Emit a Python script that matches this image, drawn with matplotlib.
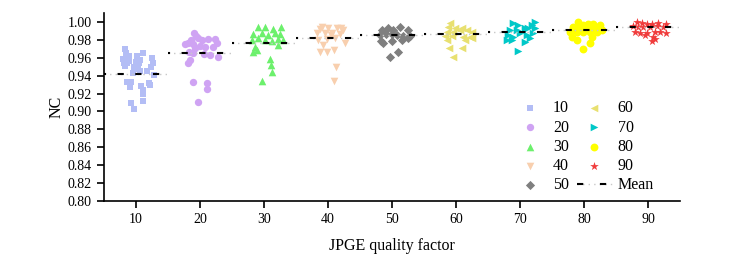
import matplotlib
matplotlib.use("Agg")
import matplotlib.pyplot as plt
from matplotlib.lines import Line2D

plt.rcParams['font.family'] = ['Liberation Serif', 'DejaVu Serif']

quality = [10, 20, 30, 40, 50, 60, 70, 80, 90]
means = [0.942, 0.965, 0.977, 0.982, 0.985, 0.987, 0.989, 0.991, 0.994]

x10 = [8.3, 8.4, 8.0, 8.1, 8.6, 8.3, 10.2, 10.0, 10.5, 11.1, 12.5, 12.7, 9.5, 10.6, 11.7, 12.8,
       8.6, 9.2, 9.1, 10.8, 11.1, 11.1, 12.0, 12.2, 11.1, 9.2, 9.7, 9.0, 9.8, 10.6, 8.9, 12.3, 10.3]
y10 = [0.970, 0.965, 0.959, 0.954, 0.954, 0.951, 0.962, 0.955, 0.954, 0.965, 0.960, 0.954, 0.943, 0.945, 0.945, 0.941,
       0.933, 0.933, 0.927, 0.928, 0.924, 0.920, 0.932, 0.930, 0.912, 0.909, 0.903, 0.957, 0.950, 0.958, 0.962, 0.950, 0.947]
x20 = [19.1, 19.4, 18.1, 18.9, 19.7, 20.3, 21.3, 22.3, 22.7, 22.0, 20.8, 20.0, 19.2, 18.3, 18.9, 20.6, 21.6, 22.8,
       18.1, 18.4, 18.9, 21.1, 21.1, 19.7, 17.7, 18.6]
y20 = [0.988, 0.984, 0.977, 0.975, 0.982, 0.980, 0.981, 0.981, 0.977, 0.972, 0.972, 0.973, 0.971, 0.966, 0.965, 0.964,
       0.963, 0.961, 0.954, 0.958, 0.933, 0.932, 0.925, 0.911, 0.975, 0.980]
x30 = [29.1, 30.2, 31.4, 32.7, 28.3, 29.7, 30.6, 31.7, 32.5, 28.1, 29.1, 30.2, 31.3, 32.2, 33.0, 28.6, 28.3, 28.9,
       32.2, 30.9, 31.1, 31.3, 29.7]
y30 = [0.994, 0.994, 0.992, 0.994, 0.987, 0.988, 0.985, 0.988, 0.987, 0.980, 0.982, 0.980, 0.979, 0.981, 0.980,
       0.972, 0.966, 0.969, 0.974, 0.959, 0.952, 0.944, 0.934]
x40 = [39.1, 40.0, 41.4, 42.3, 38.3, 39.5, 40.6, 41.9, 38.4, 39.8, 41.1, 42.7, 38.75, 39.8, 40.9, 41.25, 40.9, 39.2,
       40.5, 42.0, 38.8]
y40 = [0.994, 0.993, 0.993, 0.991, 0.988, 0.988, 0.988, 0.987, 0.980, 0.981, 0.982, 0.977, 0.966, 0.966, 0.969,
       0.950, 0.934, 0.974, 0.985, 0.993, 0.992]
x50 = [48.4, 49.4, 50.2, 51.25, 52.5, 48.1, 49.1, 50.0, 50.8, 51.7, 52.8, 48.3, 48.6, 50.0, 51.6, 52.5, 50.9, 49.7]
y50 = [0.991, 0.993, 0.991, 0.994, 0.991, 0.985, 0.987, 0.987, 0.985, 0.984, 0.984, 0.979, 0.977, 0.979, 0.980,
       0.982, 0.966, 0.961]
x60 = [59.1, 58.75, 59.8, 60.9, 58.6, 59.5, 60.6, 61.7, 62.5, 58.3, 59.4, 61.1, 62.2, 62.5, 61.4, 58.6, 58.9, 60.9, 59.5]
y60 = [0.999, 0.994, 0.993, 0.993, 0.989, 0.989, 0.991, 0.991, 0.989, 0.984, 0.984, 0.983, 0.983, 0.982, 0.980,
       0.980, 0.971, 0.971, 0.961]
x70 = [68.9, 69.7, 70.8, 72.3, 71.9, 68.4, 69.5, 71.25, 72.3, 68.1, 68.9, 70.0, 71.1, 72.0, 68.0, 68.75, 70.8, 71.6, 69.7]
y70 = [0.999, 0.997, 0.993, 1.000, 0.997, 0.991, 0.991, 0.993, 0.993, 0.985, 0.983, 0.988, 0.985, 0.988, 0.980,
       0.980, 0.978, 0.982, 0.968]
x80 = [79.1, 79.8, 80.6, 81.4, 82.5, 78.3, 79.1, 80.2, 81.25, 82.2, 77.8, 78.9, 79.8, 80.9, 82.0, 82.8, 78.1, 78.9,
       81.25, 80.9, 79.8]
y80 = [1.000, 0.997, 0.998, 0.998, 0.997, 0.994, 0.993, 0.993, 0.993, 0.993, 0.989, 0.989, 0.989, 0.989, 0.989,
       0.991, 0.983, 0.980, 0.983, 0.977, 0.970]
x90 = [88.3, 89.1, 89.8, 90.6, 91.6, 92.7, 87.7, 88.4, 89.2, 90.3, 91.4, 92.3, 88.0, 88.75, 89.8, 91.1, 91.9, 92.7,
       89.5, 90.8, 90.6, 91.1]
y90 = [1.000, 0.999, 0.998, 0.998, 0.999, 0.998, 0.996, 0.994, 0.994, 0.994, 0.996, 0.994, 0.989, 0.988, 0.988,
       0.989, 0.989, 0.988, 0.985, 0.983, 0.979, 0.981]

xs = [x10, x20, x30, x40, x50, x60, x70, x80, x90]
ys = [y10, y20, y30, y40, y50, y60, y70, y80, y90]
colors = ['#b3bdf5', '#cfa3f3', '#6cf06c', '#f8cfae', '#7f7f7f', '#e8e070', '#00c8c8', '#ffff00', '#f03c3c']
markers = ['s', 'o', '^', 'v', 'D', '<', '>', 'o', '*']
sizes = [24, 28, 30, 30, 22, 30, 30, 32, 42]

fig = plt.figure(figsize=(7.41, 2.73), dpi=100)
ax = fig.add_axes([0.140, 0.264, 0.778, 0.688])

handles = []
for q, x, y, c, m, s in zip(quality, xs, ys, colors, markers, sizes):
    h = ax.scatter(x, y, s=s, c=c, marker=m, linewidths=0, label=str(q), zorder=2)
    handles.append(h)

for q, mv in zip(quality, means):
    ax.plot([q - 5, q + 5], [mv, mv], color='#c8c8c8', lw=1.0, ls=(0, (1, 3)), zorder=3)
    ax.plot([q - 5, q + 5], [mv, mv], color='black', lw=1.5, ls=(2, (3, 5.5)), zorder=3)

mean_h = (Line2D([], [], color='#c8c8c8', lw=1.0, ls=(0, (1, 3))),
          Line2D([], [], color='black', lw=1.5, ls=(0, (3, 8))))
handles.append(mean_h)
labels = [str(q) for q in quality] + ['Mean']

ax.set_xlim(5, 95)
ax.set_ylim(0.80, 1.01)
ax.set_xticks(quality)
ax.set_yticks([0.80 + 0.02 * i for i in range(11)])
ax.yaxis.set_major_formatter(plt.FormatStrFormatter('%.2f'))
ax.spines['top'].set_visible(False)
ax.spines['right'].set_visible(False)
ax.spines['left'].set_linewidth(1.2)
ax.spines['bottom'].set_linewidth(1.2)
ax.tick_params(direction='out', length=5, width=1.2, labelsize=10)
ax.set_xlabel('JPGE quality factor', fontsize=11.5, labelpad=9)
ax.set_ylabel('NC', fontsize=11.5, labelpad=2)

ax.legend(handles, labels, ncol=2, frameon=False, loc='lower right',
          bbox_to_anchor=(0.979, -0.035), fontsize=11.5, handlelength=2.2,
          columnspacing=0.5, labelspacing=0.2, handletextpad=0.35, markerscale=1.0)

fig.savefig('out.png', dpi=100)
